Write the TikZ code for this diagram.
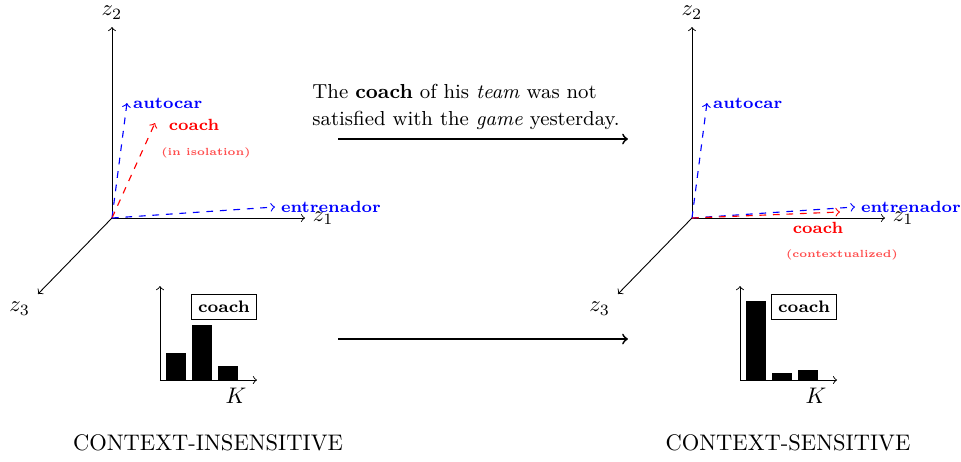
\documentclass[tikz,border=0pt]{standalone}
\tikzset{
  axis/.style={->, line width=0.4pt},
  wordvec/.style={->, dashed, line width=0.5pt},
  wordlab/.style={font=\fontsize{7.2}{9}\selectfont\bfseries, inner sep=2.5pt},
  notelab/.style={font=\fontsize{4.6}{5.5}\selectfont\bfseries, text=red!70},
  bigarrow/.style={->, line width=0.8pt},
  tagbox/.style={draw, font=\fontsize{7.4}{9}\selectfont\bfseries, inner sep=3pt, line width=0.5pt},
}

\begin{document}
\begin{tikzpicture}[line width=0.4pt]
  \useasboundingbox (0,0) rectangle (15,7.196);

  % left space: coach in isolation
  \begin{scope}[shift={(1.748,3.793)}]
    \coordinate (oL) at (0,0);
    \coordinate (zaL) at (3.013,0);
    \coordinate (zbL) at (0,2.981);
    \coordinate (zcL) at (-1.155,-1.186);
    \draw[axis] (oL) -- (zaL);
    \draw[axis] (oL) -- (zbL);
    \draw[axis] (oL) -- (zcL);
    \node[right] (zaLabL) at (zaL) {$z_1$};
    \node[above] (zbLabL) at (zbL) {$z_2$};
    \node[below left] (zcLabL) at (zcL) {$z_3$};
    \coordinate (autoL) at (0.234,1.795);
    \coordinate (coachL) at (0.671,1.483);
    \coordinate (entrL) at (2.544,0.172);
    \draw[wordvec, blue] (oL) -- (autoL);
    \draw[wordvec, red] (oL) -- (coachL);
    \draw[wordvec, blue] (oL) -- (entrL);
    \node[wordlab, right, text=blue] (autoLabL) at (autoL) {autocar};
    \node[wordlab, text=red] (coachLabL) at (1.280,1.452) {coach};
    \node[notelab] (isoLab) at (1.467,1.015) {(in isolation)};
    \node[wordlab, right, text=blue] (entrLabL) at (entrL) {entrenador};
  \end{scope}

  % right space: coach in context
  \begin{scope}[shift={(10.801,3.793)}]
    \coordinate (oR) at (0,0);
    \coordinate (zaR) at (3.013,0);
    \coordinate (zbR) at (0,2.981);
    \coordinate (zcR) at (-1.155,-1.186);
    \draw[axis] (oR) -- (zaR);
    \draw[axis] (oR) -- (zbR);
    \draw[axis] (oR) -- (zcR);
    \node[right] (zaLabR) at (zaR) {$z_1$};
    \node[above] (zbLabR) at (zbR) {$z_2$};
    \node[below left] (zcLabR) at (zcR) {$z_3$};
    \coordinate (autoR) at (0.234,1.795);
    \coordinate (coachR) at (2.310,0.094);
    \coordinate (entrR) at (2.544,0.172);
    \draw[wordvec, blue] (oR) -- (autoR);
    \draw[wordvec, blue] (oR) -- (entrR);
    \draw[wordvec, red] (oR) -- (coachR);
    \node[wordlab, right, text=blue] (autoLabR) at (autoR) {autocar};
    \node[wordlab, text=red] (coachLabR) at (1.967,-0.156) {coach};
    \node[notelab] (ctxLab) at (2.341,-0.578) {(contextualized)};
    \node[wordlab, right, text=blue] (entrLabR) at (entrR) {entrenador};
  \end{scope}

  % sentence and arrows
  \node[align=left, anchor=west, inner sep=0pt, font=\fontsize{9}{12}\selectfont]
    (sentence) at (4.870,5.533)
    {The \textbf{coach} of his \textit{team} was not\\
     satisfied with the \textit{game} yesterday.};
  \coordinate (topA) at (5.276,5.026);
  \coordinate (topB) at (9.802,5.026);
  \coordinate (lowA) at (5.276,1.904);
  \coordinate (lowB) at (9.802,1.904);
  \draw[bigarrow] (topA) -- (topB);
  \draw[bigarrow] (lowA) -- (lowB);

  % left histogram
  \begin{scope}[shift={(2.497,1.264)}]
    \coordinate (hoL) at (0,0);
    \coordinate (hxL) at (1.514,0);
    \coordinate (hyL) at (0,1.467);
    \foreach \x/\h in {0.094/0.421, 0.500/0.858, 0.905/0.219}
      \fill (\x,0) rectangle ++(0.312,\h);
    \draw[axis] (hoL) -- (hxL);
    \draw[axis] (hoL) -- (hyL);
    \node[tagbox] (tagL) at (0.999,1.139) {coach};
    \node (kL) at (1.186,-0.25) {$K$};
  \end{scope}

  % right histogram
  \begin{scope}[shift={(11.551,1.264)}]
    \coordinate (hoR) at (0,0);
    \coordinate (hxR) at (1.514,0);
    \coordinate (hyR) at (0,1.467);
    \foreach \x/\h in {0.094/1.233, 0.500/0.109, 0.905/0.156}
      \fill (\x,0) rectangle ++(0.312,\h);
    \draw[axis] (hoR) -- (hxR);
    \draw[axis] (hoR) -- (hyR);
    \node[tagbox] (tagR) at (0.999,1.139) {coach};
    \node (kR) at (1.186,-0.25) {$K$};
  \end{scope}

  \node (insens) at (3.247,0.281) {CONTEXT-INSENSITIVE};
  \node (sens) at (12.300,0.281) {CONTEXT-SENSITIVE};
\end{tikzpicture}
\end{document}
